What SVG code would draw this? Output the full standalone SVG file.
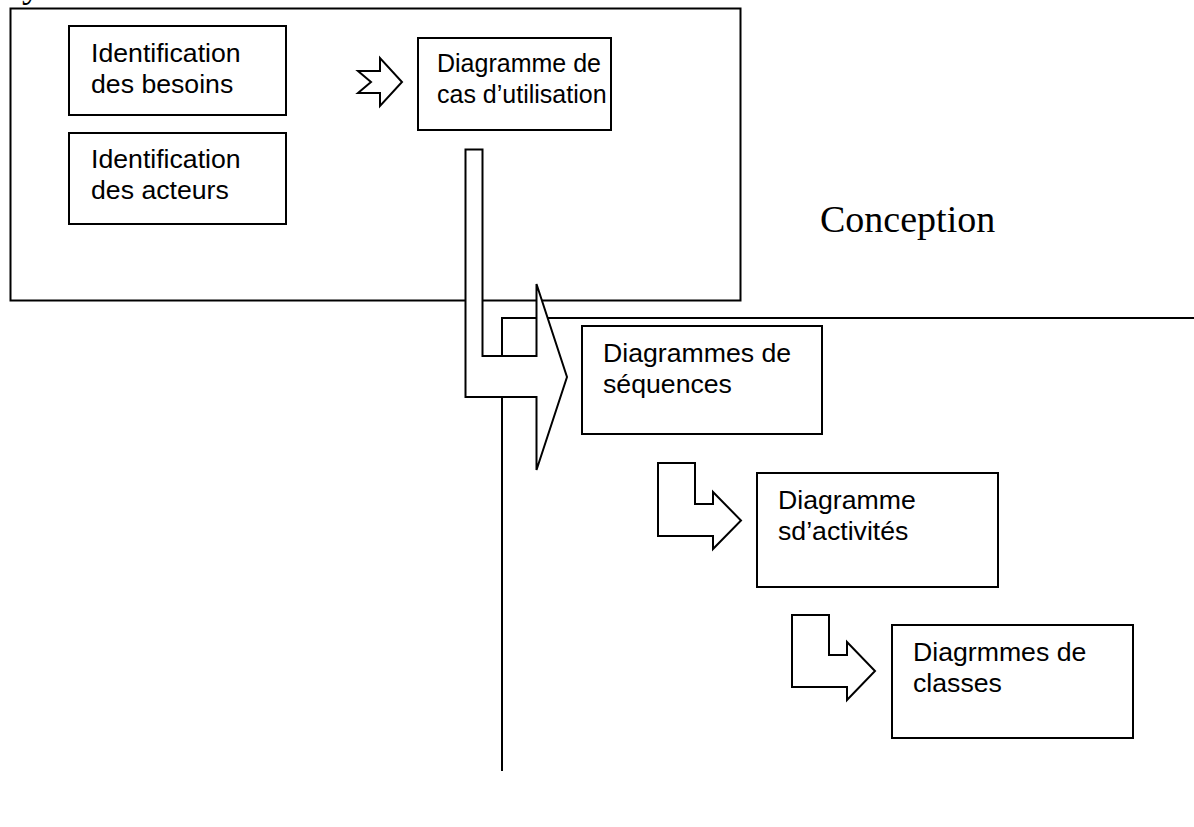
<svg xmlns="http://www.w3.org/2000/svg" width="1194" height="827" viewBox="0 0 1194 827">
<style>
.box{fill:#fff;stroke:#000;stroke-width:2}
.ln{fill:none;stroke:#000;stroke-width:2}
.arr{fill:#fff;stroke:#000;stroke-width:2;stroke-linejoin:miter}
.t{font-family:"Liberation Sans",Arial,sans-serif;font-size:26.67px;fill:#000}
.t2{font-family:"Liberation Sans",Arial,sans-serif;font-size:25px;fill:#000}
.big{font-family:"Liberation Serif","Times New Roman",serif;font-size:38px;fill:#000}
</style>
<rect width="1194" height="827" fill="#fff"/>
<text class="big" x="22" y="-3">y</text>
<g id="conception-frame">
<rect class="box" x="10.5" y="8.5" width="730" height="292"/>
</g>
<g id="analyse-frame">
<path class="ln" d="M502,771 V318 H1194"/>
</g>
<g id="besoins">
<rect class="box" x="69" y="26" width="217" height="89"/>
<text class="t" x="91" y="62">Identification</text>
<text class="t" x="91" y="93">des besoins</text>
</g>
<g id="acteurs">
<rect class="box" x="69" y="133" width="217" height="91"/>
<text class="t" x="91" y="168">Identification</text>
<text class="t" x="91" y="199">des acteurs</text>
</g>
<g id="cas">
<rect class="box" x="418" y="38" width="193" height="92"/>
<text class="t2" x="437" y="72">Diagramme de</text>
<text class="t2" x="437" y="103">cas d’utilisation</text>
</g>
<g id="conception-label">
<text class="big" x="820" y="232">Conception</text>
</g>
<g id="connectors">
<path class="arr" d="M358,71 H380 V58 L402,82 L380,106 V93 H358 L371,82 Z"/>
<path class="arr" d="M465.5,149.5 H482.5 V356 H536.5 V284 L567,377 L536.5,470 V397 H465.5 Z"/>
<path class="arr" d="M658,463 H695 V504 H713 V492 L741,520.5 L713,549 V536 H658 Z"/>
<path class="arr" d="M792,615 H829 V655 H847 V642 L875,671 L847,700 V687 H792 Z"/>
</g>
<g id="sequences">
<rect class="box" x="582" y="326" width="240" height="108"/>
<text class="t" x="603" y="362">Diagrammes de</text>
<text class="t" x="603" y="393">séquences</text>
</g>
<g id="activites">
<rect class="box" x="757" y="473" width="241" height="114"/>
<text class="t" x="778" y="509">Diagramme</text>
<text class="t" x="778" y="540">sd’activités</text>
</g>
<g id="classes">
<rect class="box" x="892" y="625" width="241" height="113"/>
<text class="t" x="913" y="661">Diagrmmes de</text>
<text class="t" x="913" y="692">classes</text>
</g>
</svg>
